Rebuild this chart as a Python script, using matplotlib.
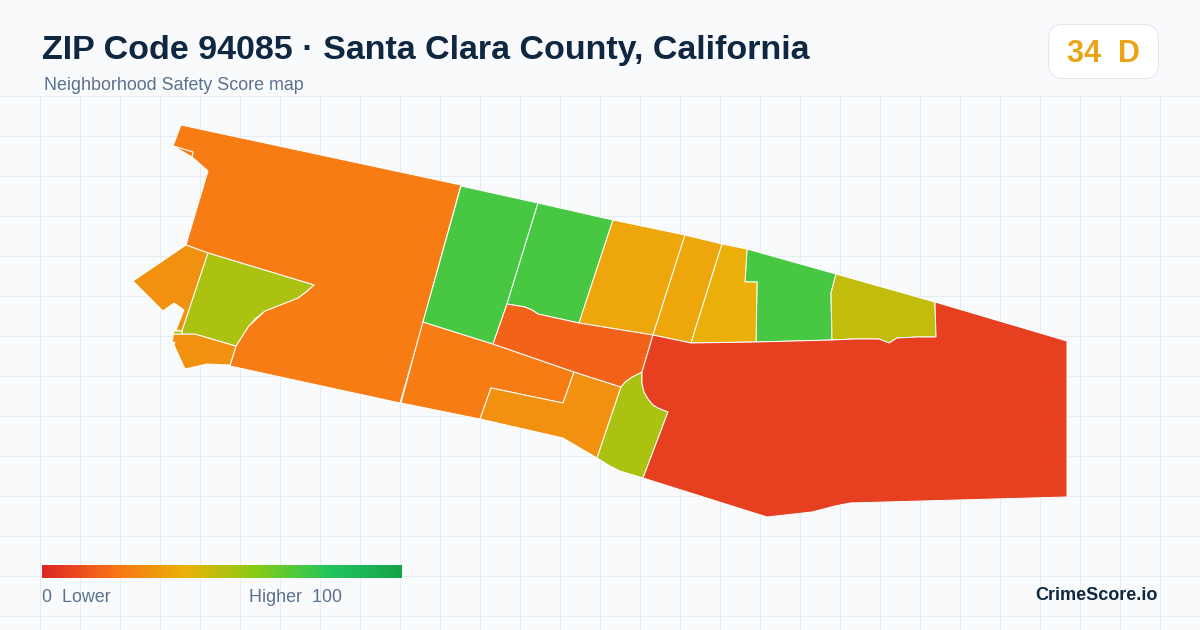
import matplotlib
matplotlib.use("Agg")
import matplotlib.pyplot as plt
import numpy as np
from matplotlib.colors import LinearSegmentedColormap
from matplotlib.patches import FancyBboxPatch, Polygon

# tract scores
scores = [23, 23, 23, 29, 29, 29, 52, 52, 52, 72, 72, 72, 36, 36, 39, 48, 16, 7]

# tract outlines in picture pixels
outlines = [
    [(181, 125), (461, 185), (423, 322), (418, 340), (400, 403), (230, 366), (236, 346),
     (248, 327), (265, 311), (298, 298), (306, 292), (314, 285), (208, 253), (186, 245),
     (208, 171), (192, 157), (193, 152), (173, 146)],
    [(173, 146), (193, 152), (192, 157)],
    [(423, 322), (493, 344), (574, 372), (563, 403), (491, 388), (480, 419), (401, 403), (418, 340)],
    [(186, 245), (208, 253), (182, 331), (176, 330), (184, 310), (174, 303), (163, 311), (133, 281)],
    [(173, 334), (195, 334), (236, 346), (230, 365), (207, 364), (185, 369), (174, 345),
     (175, 342), (172, 343), (173, 338)],
    [(574, 372), (621, 387), (597, 458), (580, 448), (563, 438), (480, 419), (491, 388), (563, 403)],
    [(208, 253), (314, 285), (306, 292), (298, 298), (265, 311), (256, 318), (248, 327),
     (236, 346), (195, 334), (182, 334), (182, 331)],
    [(173, 334), (174, 331), (182, 331), (182, 334)],
    [(621, 387), (625, 382), (632, 377), (642, 372), (642, 383), (644, 392), (648, 399),
     (653, 405), (658, 408), (668, 412), (643, 478), (620, 471), (610, 466), (597, 458)],
    [(461, 186), (538, 203), (507, 304), (493, 344), (423, 322)],
    [(538, 203), (613, 220), (579, 323), (538, 314), (532, 310), (525, 307), (507, 304)],
    [(747, 249), (836, 274), (831, 293), (832, 340), (756, 342), (757, 282), (745, 282)],
    [(613, 220), (685, 235), (653, 335), (579, 323)],
    [(685, 235), (722, 244), (691, 343), (653, 335)],
    [(722, 244), (747, 249), (745, 282), (757, 282), (756, 342), (691, 343)],
    [(836, 274), (935, 302), (936, 337), (917, 337), (897, 338), (889, 343), (879, 339),
     (855, 339), (832, 340), (831, 293)],
    [(507, 304), (525, 307), (532, 310), (538, 314), (579, 323), (653, 335), (642, 372),
     (632, 377), (625, 382), (621, 387), (574, 372), (493, 344)],
    [(935, 302), (1067, 341), (1067, 497), (850, 503), (835, 506), (812, 512), (767, 517),
     (643, 478), (668, 412), (658, 408), (653, 405), (648, 399), (644, 392), (642, 383),
     (642, 372), (653, 335), (691, 343), (756, 342), (832, 340), (855, 339), (879, 339),
     (889, 343), (897, 338), (917, 337), (936, 337)],
]

scale_colors = ["#dc2626", "#f97316", "#eab308", "#84cc16", "#22c55e", "#16a34a"]


def main():
    plt.rcParams["font.family"] = ["Liberation Sans", "DejaVu Sans"]
    cmap = LinearSegmentedColormap.from_list("safety", scale_colors)

    fig = plt.figure(figsize=(12, 6.3), dpi=100, facecolor="#f8fafc")
    ax = fig.add_axes([0, 0, 1, 1])
    ax.set_facecolor("#f8fafc")

    # background grid, starts under the header
    for x in range(40, 1200, 40):
        ax.plot([x, x], [96, 630], color="#e6edf2", lw=0.72, zorder=1)
    for y in range(96, 630, 40):
        ax.plot([0, 1200], [y, y], color="#e6edf2", lw=0.72, zorder=1)

    for outline, score in zip(outlines, scores):
        ax.add_patch(Polygon(outline, closed=True, facecolor=cmap(score / 100),
                             edgecolor="white", lw=0.72, joinstyle="round", zorder=2))

    # header
    ax.text(42, 50, "ZIP Code 94085 · Santa Clara County, California", fontsize=24.5,
            fontweight="bold", color="#0f2741", va="center", ha="left", zorder=5)
    ax.text(44, 86, "Neighborhood Safety Score map", fontsize=12.9, color="#5b7190",
            va="center", ha="left", zorder=5)

    # score badge
    ax.add_patch(FancyBboxPatch((1048.5, 24.5), 110, 54, boxstyle="round,pad=0,rounding_size=14",
                                facecolor="white", edgecolor="#e2e8f0", lw=0.72, zorder=4))
    ax.text(1103, 54, "34  D", fontsize=22, fontweight="bold", color="#eca314",
            va="center", ha="center", zorder=5)

    # legend bar
    ramp = np.linspace(0, 1, 360).reshape(1, -1)
    ax.imshow(ramp, cmap=cmap, extent=(42, 402, 578, 565), aspect="auto", zorder=4)
    ax.text(42, 598, "0  Lower", fontsize=12.9, color="#5b7190", va="center", ha="left", zorder=5)
    ax.text(249, 598, "Higher  100", fontsize=12.9, color="#5b7190", va="center", ha="left", zorder=5)
    ax.text(1158, 595, "CrimeScore.io", fontsize=13, fontweight="bold", color="#0f2741",
            va="center", ha="right", zorder=5)

    ax.set_xlim(0, 1200)
    ax.set_ylim(630, 0)
    ax.axis("off")

    fig.savefig("out.png", dpi=100, facecolor=fig.get_facecolor())
    plt.close(fig)


if __name__ == "__main__":
    main()
